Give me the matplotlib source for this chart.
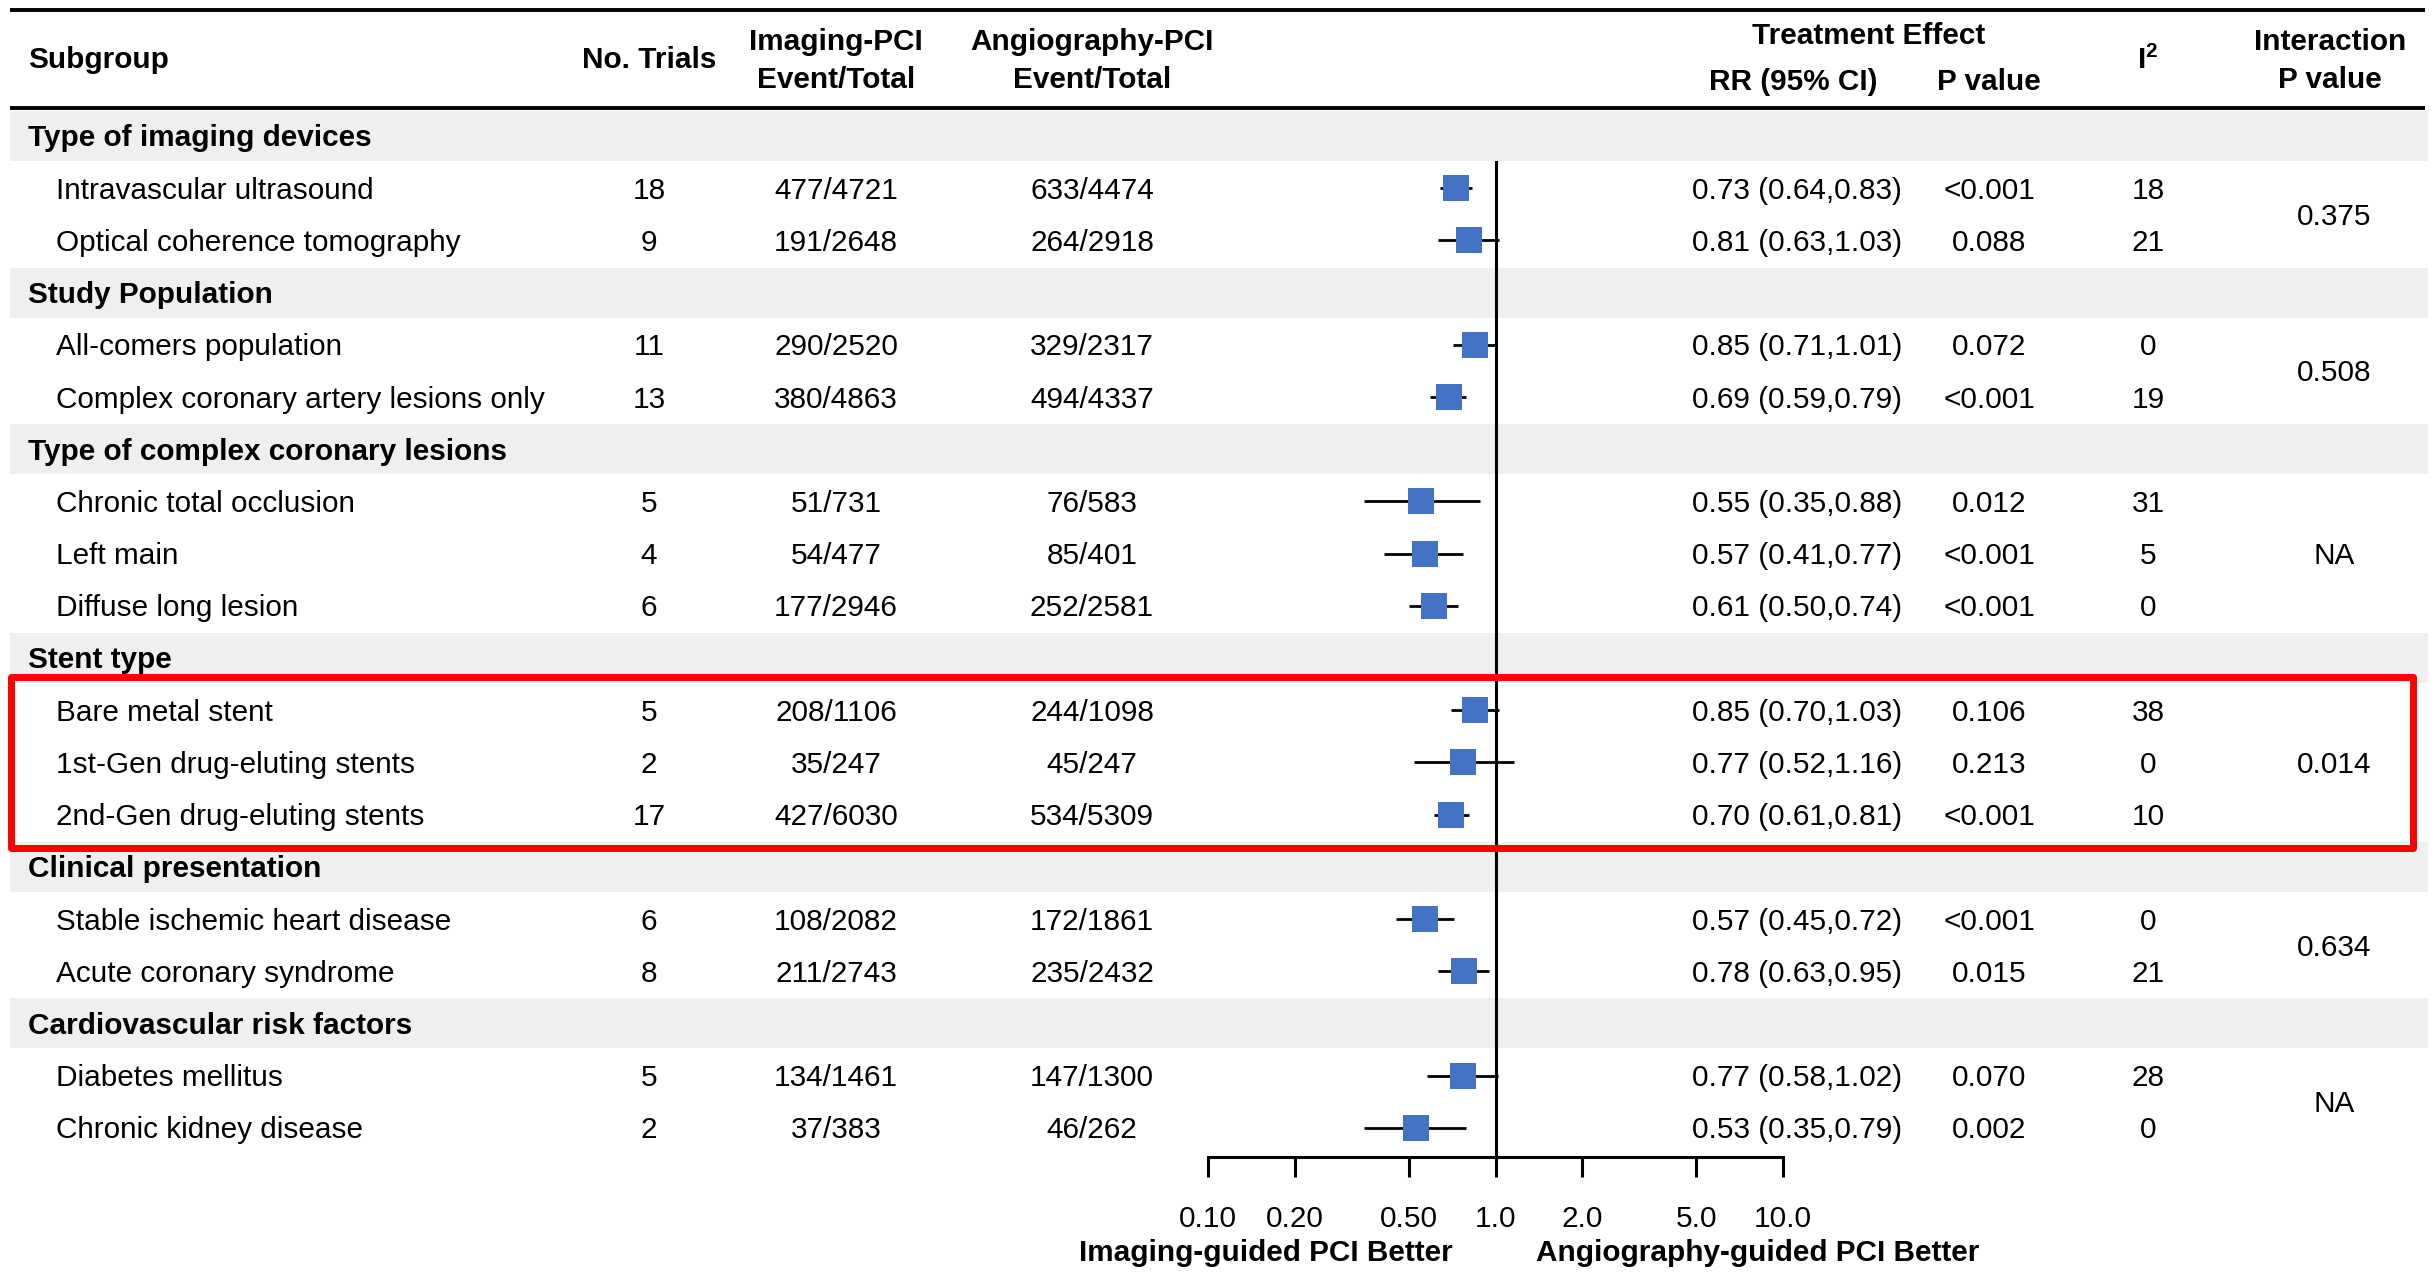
import matplotlib
matplotlib.use('Agg')
import matplotlib.pyplot as plt
from matplotlib.patches import Rectangle

plt.rcParams['font.family'] = ['Liberation Sans', 'DejaVu Sans']
plt.rcParams['mathtext.fontset'] = 'custom'
plt.rcParams['mathtext.rm'] = 'Liberation Sans'
plt.rcParams['mathtext.bf'] = 'Liberation Sans:bold'
plt.rcParams['mathtext.default'] = 'bf'

# ---------------- data ----------------
labels = [
    "Type of imaging devices",
    "Intravascular ultrasound",
    "Optical coherence tomography",
    "Study Population",
    "All-comers population",
    "Complex coronary artery lesions only",
    "Type of complex coronary lesions",
    "Chronic total occlusion",
    "Left main",
    "Diffuse long lesion",
    "Stent type",
    "Bare metal stent",
    "1st-Gen drug-eluting stents",
    "2nd-Gen drug-eluting stents",
    "Clinical presentation",
    "Stable ischemic heart disease",
    "Acute coronary syndrome",
    "Cardiovascular risk factors",
    "Diabetes mellitus",
    "Chronic kidney disease",
]
is_group = [True, False, False, True, False, False, True, False, False, False,
            True, False, False, False, True, False, False, True, False, False]
trials = [None, 18, 9, None, 11, 13, None, 5, 4, 6, None, 5, 2, 17, None, 6, 8, None, 5, 2]
imaging = [None, "477/4721", "191/2648", None, "290/2520", "380/4863", None, "51/731", "54/477",
           "177/2946", None, "208/1106", "35/247", "427/6030", None, "108/2082", "211/2743",
           None, "134/1461", "37/383"]
angio = [None, "633/4474", "264/2918", None, "329/2317", "494/4337", None, "76/583", "85/401",
         "252/2581", None, "244/1098", "45/247", "534/5309", None, "172/1861", "235/2432",
         None, "147/1300", "46/262"]
rr = [None, 0.73, 0.81, None, 0.85, 0.69, None, 0.55, 0.57, 0.61, None, 0.85, 0.77, 0.70,
      None, 0.57, 0.78, None, 0.77, 0.53]
lo = [None, 0.64, 0.63, None, 0.71, 0.59, None, 0.35, 0.41, 0.50, None, 0.70, 0.52, 0.61,
      None, 0.45, 0.63, None, 0.58, 0.35]
hi = [None, 0.83, 1.03, None, 1.01, 0.79, None, 0.88, 0.77, 0.74, None, 1.03, 1.16, 0.81,
      None, 0.72, 0.95, None, 1.02, 0.79]
pvals = [None, "<0.001", "0.088", None, "0.072", "<0.001", None, "0.012", "<0.001", "<0.001",
         None, "0.106", "0.213", "<0.001", None, "<0.001", "0.015", None, "0.070", "0.002"]
i2 = [None, 18, 21, None, 0, 19, None, 31, 5, 0, None, 38, 0, 10, None, 0, 21, None, 28, 0]
interaction = [("0.375", 1, 2), ("0.508", 4, 5), ("NA", 7, 9), ("0.014", 11, 13),
               ("0.634", 15, 16), ("NA", 18, 19)]
tick_vals = [0.1, 0.2, 0.5, 1.0, 2.0, 5.0, 10.0]
tick_labels = ["0.10", "0.20", "0.50", "1.0", "2.0", "5.0", "10.0"]

# ---------------- layout ----------------
W, H = 2435, 1272
FS = 21.4
fig = plt.figure(figsize=(W / 100, H / 100), dpi=100)
ax = fig.add_axes([0, 0, 1, 1])
ax.set_xlim(0, W)
ax.set_ylim(H, 0)
ax.axis('off')

ROW0, STEP = 136, 52.2
TOFF = 2.5  # visual centering offset for text


def rowy(i):
    return ROW0 + i * STEP


X_GROUP, X_SUB = 28, 56
X_TRIALS, X_IMG, X_ANG = 649, 836, 1092
X_RR, X_P, X_I2, X_INT = 1797, 1989, 2148, 2334

# header lines
ax.plot([10, 2425], [9.5, 9.5], color='black', lw=2.8, solid_capstyle='butt')
ax.plot([10, 2425], [107.5, 107.5], color='black', lw=2.8, solid_capstyle='butt')

hdr = dict(fontsize=FS, fontweight='bold', va='center', color='black')
ax.text(X_GROUP, 60, "Subgroup", ha='left', **hdr)
ax.text(X_TRIALS, 60, "No. Trials", ha='center', **hdr)
ax.text(X_IMG, 42, "Imaging-PCI", ha='center', **hdr)
ax.text(X_IMG, 80, "Event/Total", ha='center', **hdr)
ax.text(X_ANG, 42, "Angiography-PCI", ha='center', **hdr)
ax.text(X_ANG, 80, "Event/Total", ha='center', **hdr)
ax.text(1869, 36, "Treatment Effect", ha='center', **hdr)
ax.text(1793, 82, "RR (95% CI)", ha='center', **hdr)
ax.text(X_P, 82, "P value", ha='center', **hdr)
ax.text(X_I2, 60, r"I$^{2}$", ha='center', **hdr)
ax.text(2330, 42, "Interaction", ha='center', **hdr)
ax.text(2330, 80, "P value", ha='center', **hdr)

body = dict(fontsize=FS, va='center', color='black')
for i, lab in enumerate(labels):
    y = rowy(i)
    ty = y + TOFF
    if is_group[i]:
        ax.add_patch(Rectangle((10, y - 25), 2418, 50, facecolor='#efefef',
                               edgecolor='none', zorder=0))
        ax.text(X_GROUP, ty, lab, ha='left', fontweight='bold', **body)
    else:
        ax.text(X_SUB, ty, lab, ha='left', **body)
        ax.text(X_TRIALS, ty, str(trials[i]), ha='center', **body)
        ax.text(X_IMG, ty, imaging[i], ha='center', **body)
        ax.text(X_ANG, ty, angio[i], ha='center', **body)
        ax.text(X_RR, ty, f"{rr[i]:.2f} ({lo[i]:.2f},{hi[i]:.2f})", ha='center', **body)
        ax.text(X_P, ty, pvals[i], ha='center', **body)
        ax.text(X_I2, ty, str(i2[i]), ha='center', **body)

for txt, r0, r1 in interaction:
    ax.text(X_INT, (rowy(r0) + rowy(r1)) / 2 + TOFF, txt, ha='center', **body)

# ---------------- forest axes ----------------
FX0, FX1 = 1208, 1783
FY0, FY1 = 161, 1157
ax2 = fig.add_axes([FX0 / W, (H - FY1) / H, (FX1 - FX0) / W, (FY1 - FY0) / H])
ax2.set_xscale('log')
ax2.set_xlim(0.1, 10)
ax2.set_ylim(FY1, FY0)
ax2.patch.set_alpha(0)
for s in ['top', 'left', 'right']:
    ax2.spines[s].set_visible(False)
ax2.spines['bottom'].set_linewidth(2.2)
ax2.axvline(1.0, color='black', lw=2.2)
for i in range(len(labels)):
    if is_group[i]:
        continue
    y = rowy(i)
    ax2.plot([lo[i], hi[i]], [y, y], color='black', lw=2.0, solid_capstyle='butt',
             clip_on=False, zorder=3)
    ax2.plot([rr[i]], [y], marker='s', markersize=18.7, color='#4472C4',
             markeredgewidth=0, linestyle='none', clip_on=False, zorder=4)
ax2.set_xticks(tick_vals)
ax2.set_xticklabels(tick_labels)
ax2.minorticks_off()
ax2.set_yticks([])
ax2.tick_params(axis='x', which='major', length=14.4, width=2.2, pad=20,
                labelsize=FS, direction='out', colors='black')

ax.text(1266, 1253, "Imaging-guided PCI Better", ha='center', va='center',
        fontsize=FS, fontweight='bold')
ax.text(1758, 1253, "Angiography-guided PCI Better", ha='center', va='center',
        fontsize=FS, fontweight='bold')

# highlight box
ax2.add_patch(Rectangle((11, 677), 2402, 171, transform=ax.transData, fill=False,
                        edgecolor='#ff0000', lw=5, joinstyle='round', clip_on=False,
                        zorder=10))

fig.savefig('out.png', dpi=100)
